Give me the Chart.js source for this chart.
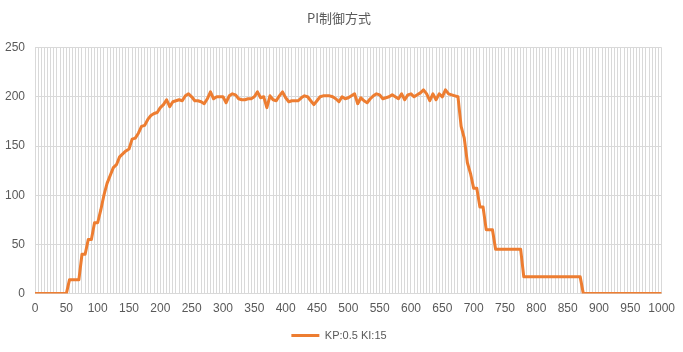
<!DOCTYPE html>
<html>
<head>
<meta charset="utf-8">
<script src="https://cdn.jsdelivr.net/npm/chart.js@4/dist/chart.umd.min.js"></script>
<style>
  html, body { margin: 0; padding: 0; background: #ffffff; }
  #wrap { width: 683px; height: 352px; }
</style>
</head>
<body>
<div id="wrap"><canvas id="myChart"></canvas></div>
<script>
var chartTitle = 'PI制御方式';
var seriesName = 'KP:0.5 KI:15';

// one value every 5 units of x, from 0 to 1000 (ten per row = 50 units)
var outputValues = [
  0, 0, 0, 0, 0, 0, 0, 0, 0, 0,
  0, 14, 14, 14, 14, 40, 40, 55, 55, 72,
  72, 85, 100, 112, 120, 128, 131, 139, 142, 145,
  147, 157, 158, 163, 170, 171, 177, 181, 183, 184,
  189, 192, 197, 190, 195, 196, 197, 196, 201, 203,
  200, 196, 196, 195, 193, 198, 205, 198, 200, 200,
  200, 194, 201, 203, 202, 198, 197, 197, 198, 198,
  200, 205, 199, 200, 189, 201, 197, 196, 201, 205,
  199, 195, 196, 196, 196, 199, 201, 200, 196, 192,
  196, 200, 201, 201, 201, 200, 198, 195, 200, 198,
  199, 201, 203, 193, 199, 196, 194, 198, 201, 203,
  202, 198, 199, 200, 202, 200, 198, 203, 197, 202,
  203, 200, 202, 204, 207, 203, 196, 203, 197, 203,
  200, 207, 203, 202, 201, 200, 170, 158, 133, 122,
  107, 107, 88, 88, 65, 65, 65, 45, 45, 45,
  45, 45, 45, 45, 45, 45, 17, 17, 17, 17,
  17, 17, 17, 17, 17, 17, 17, 17, 17, 17,
  17, 17, 17, 17, 17, 0, 0, 0, 0, 0,
  0, 0, 0, 0, 0, 0, 0, 0, 0, 0,
  0, 0, 0, 0, 0, 0, 0, 0, 0, 0,
  0
];
var xStep = 5;
var xMax = 1000;
var xLabelStep = 50;
var yTicks = [0, 50, 100, 150, 200, 250];

var points = outputValues.map(function (v, i) {
  return { x: i * xStep, y: v };
});

var textColor = '#595959';
var gridColor = '#d9d9d9';
var lineColor = '#ED7D31';

var ctx = document.getElementById('myChart').getContext('2d');

var myChart = new Chart(ctx, {
  type: 'line',
  data: {
    datasets: [{
      label: seriesName,
      data: points,
      borderColor: lineColor,
      backgroundColor: lineColor,
      borderWidth: 3,
      pointRadius: 0,
      tension: 0,
      borderJoinStyle: 'round'
    }]
  },
  options: {
    responsive: true,
    maintainAspectRatio: false,
    animation: false,
    layout: {
      padding: { left: 5, right: 10, top: 0, bottom: 1 }
    },
    plugins: {
      title: {
        display: true,
        text: chartTitle,
        color: textColor,
        font: { size: 13, weight: 'normal', family: '"Noto Sans CJK JP", "Liberation Sans", sans-serif' },
        padding: { top: 10, bottom: 22 }
      },
      legend: {
        position: 'bottom',
        labels: {
          color: textColor,
          usePointStyle: true,
          pointStyle: 'line',
          pointStyleWidth: 28,
          boxHeight: 8,
          font: { size: 11, family: '"Liberation Sans", sans-serif' },
          padding: 6
        }
      },
      tooltip: { enabled: false }
    },
    scales: {
      x: {
        type: 'linear',
        min: 0,
        max: xMax,
        border: { display: false },
        grid: { color: gridColor, drawTicks: false },
        ticks: {
          stepSize: xStep,
          autoSkip: false,
          maxTicksLimit: 1000,
          maxRotation: 0,
          padding: 8,
          color: textColor,
          font: { size: 12, family: '"Liberation Sans", sans-serif' },
          callback: function (value) {
            return value % xLabelStep === 0 ? value : '';
          }
        }
      },
      y: {
        min: yTicks[0],
        max: yTicks[yTicks.length - 1],
        border: { display: false },
        grid: { color: gridColor, drawTicks: false },
        afterFit: function (scale) {
          scale.width = 30;
        },
        ticks: {
          stepSize: 50,
          padding: 10,
          color: textColor,
          font: { size: 12, family: '"Liberation Sans", sans-serif' }
        }
      }
    }
  }
});
</script>
</body>
</html>
